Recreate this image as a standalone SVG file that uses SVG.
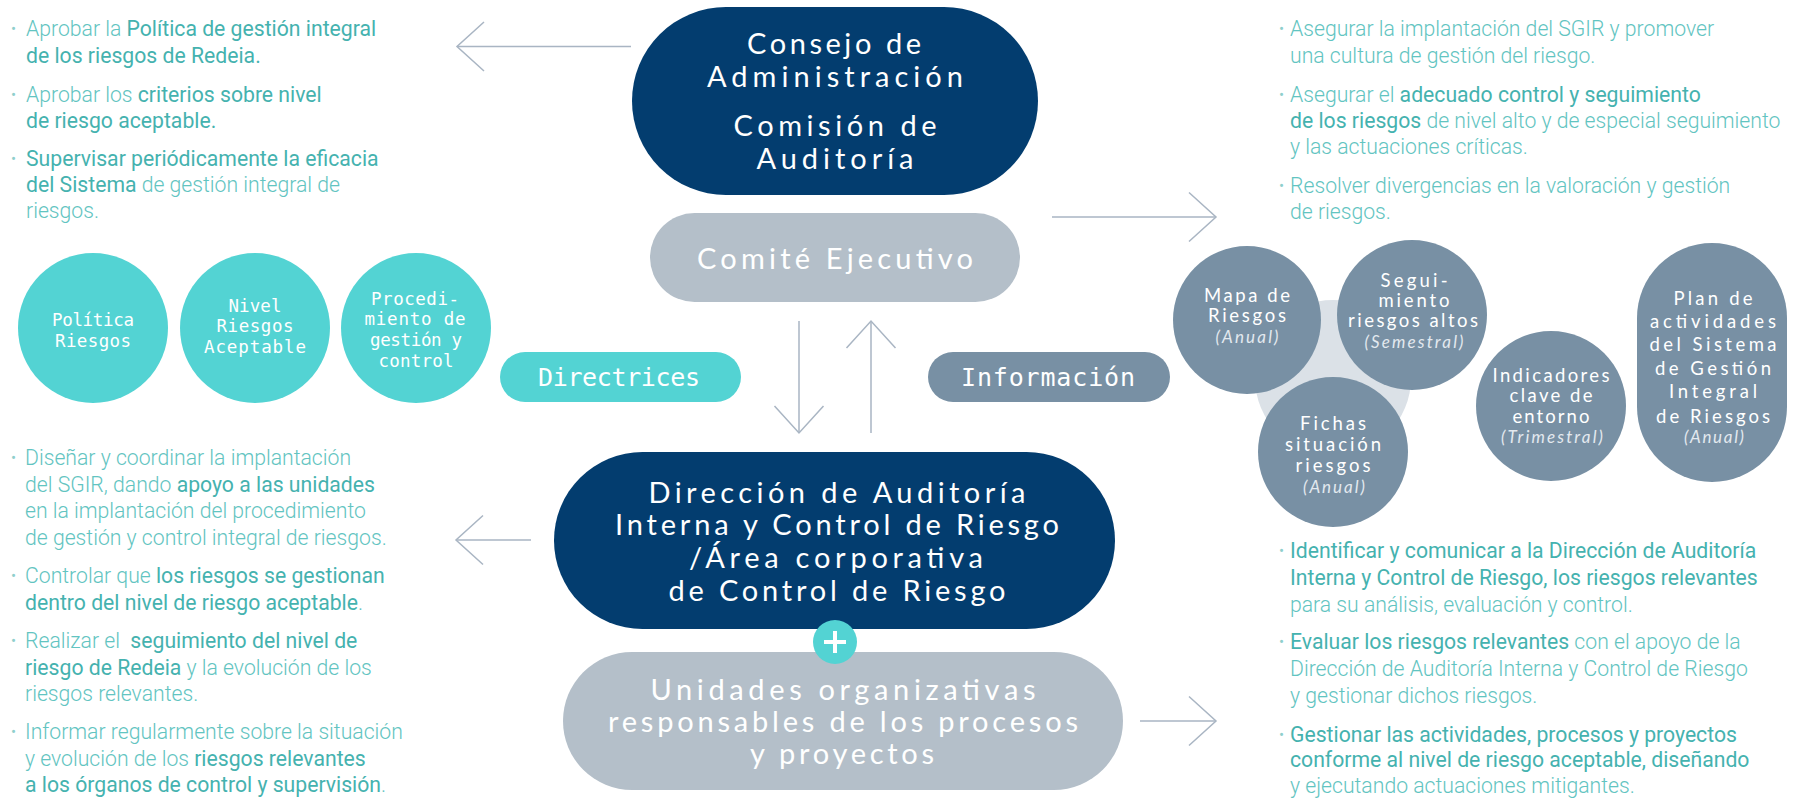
<svg xmlns="http://www.w3.org/2000/svg" width="1801" height="799" viewBox="0 0 1801 799">
<style>
.bg{fill:#ffffff}
.body{font-family:Roboto,"Liberation Sans",sans-serif;font-size:21.2px;font-weight:300;fill:#62c4c1}
.b{font-weight:400;fill:#45b2af}
.dot{font-family:Roboto,"Liberation Sans",sans-serif;font-size:15px;fill:#8fcfcc}
.navy{fill:#033d6f}
.grey{fill:#b4bfc9}
.teal{fill:#53d3d3}
.slate{fill:#7890a4}
.halo{fill:#dbe1e7}
.pt{font-family:Lato,"Open Sans",sans-serif;font-size:29px;fill:#ffffff;text-anchor:middle}
.mono{font-family:"DejaVu Sans Mono","Liberation Mono",monospace;fill:#ffffff;text-anchor:middle}
.ct{font-family:Lato,"Open Sans",sans-serif;font-size:18.5px;fill:#ffffff;text-anchor:middle}
.ci{font-family:Lato,"Open Sans",sans-serif;font-size:17px;font-style:italic;fill:#e3e9ef;text-anchor:middle}
.conn{fill:none;stroke:#a9b5c3;stroke-width:1.5}
</style>
<defs>
<marker id="chev" markerUnits="userSpaceOnUse" viewBox="-30 -30 34 60" markerWidth="34" markerHeight="60" refX="0" refY="0" orient="auto">
<path d="M-27,-24.5 L0,0 L-27,24.5" fill="none" stroke="#a9b5c3" stroke-width="1.5"/>
</marker>
</defs>
<rect class="bg" x="0" y="0" width="1801" height="799"/>

<g id="connectors">
<line class="conn" x1="631" y1="46.5" x2="457" y2="46.5" marker-end="url(#chev)"/>
<line class="conn" x1="1052" y1="217" x2="1216" y2="217" marker-end="url(#chev)"/>
<line class="conn" x1="531" y1="540" x2="456" y2="540" marker-end="url(#chev)"/>
<line class="conn" x1="1140" y1="721" x2="1216" y2="721" marker-end="url(#chev)"/>
<line class="conn" x1="799" y1="321" x2="799" y2="433" marker-end="url(#chev)"/>
<line class="conn" x1="871" y1="433" x2="871" y2="321" marker-end="url(#chev)"/>
</g>

<g id="text-consejo">
<text class="dot" x="11" y="34">•</text>
<text class="body" x="26" y="36" xml:space="preserve">Aprobar la <tspan class="b">Política de gestión integral</tspan></text>
<text class="body b" x="26" y="63">de los riesgos de Redeia.</text>
<text class="dot" x="11" y="100">•</text>
<text class="body" x="26" y="102" xml:space="preserve">Aprobar los <tspan class="b">criterios sobre nivel</tspan></text>
<text class="body b" x="26" y="128">de riesgo aceptable.</text>
<text class="dot" x="11" y="164">•</text>
<text class="body b" x="26" y="166">Supervisar periódicamente la eficacia</text>
<text class="body" x="26" y="192" xml:space="preserve"><tspan class="b">del Sistema</tspan> de gestión integral de</text>
<text class="body" x="26" y="218">riesgos.</text>
</g>

<g id="text-comite">
<text class="dot" x="1279" y="34">•</text>
<text class="body" x="1290" y="36">Asegurar la implantación del SGIR y promover</text>
<text class="body" x="1290" y="63">una cultura de gestión del riesgo.</text>
<text class="dot" x="1279" y="100">•</text>
<text class="body" x="1290" y="102" xml:space="preserve">Asegurar el <tspan class="b">adecuado control y seguimiento</tspan></text>
<text class="body" x="1290" y="128" xml:space="preserve"><tspan class="b">de los riesgos</tspan> de nivel alto y de especial seguimiento</text>
<text class="body" x="1290" y="154">y las actuaciones críticas.</text>
<text class="dot" x="1279" y="191">•</text>
<text class="body" x="1290" y="193">Resolver divergencias en la valoración y gestión</text>
<text class="body" x="1290" y="219">de riesgos.</text>
</g>

<g id="text-direccion">
<text class="dot" x="11" y="463">•</text>
<text class="body" x="25" y="465">Diseñar y coordinar la implantación</text>
<text class="body" x="25" y="492" xml:space="preserve">del SGIR, dando <tspan class="b">apoyo a las unidades</tspan></text>
<text class="body" x="25" y="518">en la implantación del procedimiento</text>
<text class="body" x="25" y="545">de gestión y control integral de riesgos.</text>
<text class="dot" x="11" y="581">•</text>
<text class="body" x="25" y="583" xml:space="preserve">Controlar que <tspan class="b">los riesgos se gestionan</tspan></text>
<text class="body" x="25" y="610"><tspan class="b">dentro del nivel de riesgo aceptable</tspan>.</text>
<text class="dot" x="11" y="646">•</text>
<text class="body" x="25" y="648" xml:space="preserve">Realizar el  <tspan class="b">seguimiento del nivel de</tspan></text>
<text class="body" x="25" y="675" xml:space="preserve"><tspan class="b">riesgo de Redeia</tspan> y la evolución de los</text>
<text class="body" x="25" y="701">riesgos relevantes.</text>
<text class="dot" x="11" y="737">•</text>
<text class="body" x="25" y="739">Informar regularmente sobre la situación</text>
<text class="body" x="25" y="766" xml:space="preserve">y evolución de los <tspan class="b">riesgos relevantes</tspan></text>
<text class="body" x="25" y="792"><tspan class="b">a los órganos de control y supervisión</tspan>.</text>
</g>

<g id="text-unidades">
<text class="dot" x="1279" y="556">•</text>
<text class="body b" x="1290" y="558">Identificar y comunicar a la Dirección de Auditoría</text>
<text class="body b" x="1290" y="585">Interna y Control de Riesgo, los riesgos relevantes</text>
<text class="body" x="1290" y="612">para su análisis, evaluación y control.</text>
<text class="dot" x="1279" y="647">•</text>
<text class="body" x="1290" y="649" xml:space="preserve"><tspan class="b">Evaluar los riesgos relevantes</tspan> con el apoyo de la</text>
<text class="body" x="1290" y="676">Dirección de Auditoría Interna y Control de Riesgo</text>
<text class="body" x="1290" y="703">y gestionar dichos riesgos.</text>
<text class="dot" x="1279" y="740">•</text>
<text class="body b" x="1290" y="742">Gestionar las actividades, procesos y proyectos</text>
<text class="body b" x="1290" y="767">conforme al nivel de riesgo aceptable, diseñando</text>
<text class="body" x="1290" y="793">y ejecutando actuaciones mitigantes.</text>
</g>

<g id="consejo">
<rect class="navy" x="632" y="7" width="406" height="188" rx="94"/>
<text class="pt" x="834" y="54" textLength="174" lengthAdjust="spacing">Consejo de</text>
<text class="pt" x="835" y="87" textLength="256" lengthAdjust="spacing">Administración</text>
<text class="pt" x="835" y="136" textLength="203" lengthAdjust="spacing">Comisión de</text>
<text class="pt" x="835" y="169" textLength="157" lengthAdjust="spacing">Auditoría</text>
</g>

<g id="comite">
<rect class="grey" x="650" y="213" width="370" height="89" rx="44.5"/>
<text class="pt" x="835" y="269" font-size="31" textLength="276" lengthAdjust="spacing">Comité Ejecutivo</text>
</g>

<g id="directrices">
<rect class="teal" x="500" y="352" width="241" height="50" rx="25"/>
<text class="mono" x="619" y="386" font-size="25" textLength="162" lengthAdjust="spacing">Directrices</text>
</g>

<g id="informacion">
<rect class="slate" x="928" y="352" width="242" height="50" rx="25"/>
<text class="mono" x="1048" y="386" font-size="25" textLength="174" lengthAdjust="spacing">Información</text>
</g>

<g id="politica">
<circle class="teal" cx="93" cy="328" r="75"/>
<text class="mono" x="93" y="326" font-size="17.5" textLength="82" lengthAdjust="spacing">Política</text>
<text class="mono" x="93" y="347" font-size="17.5" textLength="76" lengthAdjust="spacing">Riesgos</text>
</g>

<g id="nivel">
<circle class="teal" cx="255" cy="328" r="75"/>
<text class="mono" x="255" y="312" font-size="17.5" textLength="53" lengthAdjust="spacing">Nivel</text>
<text class="mono" x="255" y="332" font-size="17.5" textLength="77" lengthAdjust="spacing">Riesgos</text>
<text class="mono" x="255" y="353" font-size="17.5" textLength="102" lengthAdjust="spacing">Aceptable</text>
</g>

<g id="procedimiento">
<circle class="teal" cx="416" cy="328" r="75"/>
<text class="mono" x="415" y="305" font-size="17.5" textLength="88" lengthAdjust="spacing">Procedi-</text>
<text class="mono" x="415" y="325" font-size="17.5" textLength="101" lengthAdjust="spacing">miento de</text>
<text class="mono" x="416" y="346" font-size="17.5" textLength="92" lengthAdjust="spacing">gestión y</text>
<text class="mono" x="416" y="367" font-size="17.5" textLength="75" lengthAdjust="spacing">control</text>
</g>

<g id="direccion">
<rect class="navy" x="554" y="452" width="561" height="177" rx="88.5"/>
<text class="pt" x="837" y="503" textLength="377" lengthAdjust="spacing">Dirección de Auditoría</text>
<text class="pt" x="837" y="535" textLength="444" lengthAdjust="spacing">Interna y Control de Riesgo</text>
<text class="pt" x="836" y="568" textLength="294" lengthAdjust="spacing">/Área corporativa</text>
<text class="pt" x="837" y="601" textLength="337" lengthAdjust="spacing">de Control de Riesgo</text>
</g>

<g id="unidades">
<rect class="grey" x="563" y="652" width="560" height="138" rx="69"/>
<text class="pt" x="843" y="700" font-size="28" textLength="385" lengthAdjust="spacing">Unidades organizativas</text>
<text class="pt" x="843" y="732" font-size="28" textLength="470" lengthAdjust="spacing">responsables de los procesos</text>
<text class="pt" x="842" y="764" font-size="28" textLength="184" lengthAdjust="spacing">y proyectos</text>
</g>

<g id="plus">
<circle class="teal" cx="835" cy="642" r="22"/>
<path d="M835,631 V653 M824,642 H846" stroke="#ffffff" stroke-width="4" fill="none"/>
</g>

<g id="info-halo">
<circle class="halo" cx="1333" cy="378" r="78"/>
</g>

<g id="mapa">
<circle class="slate" cx="1247" cy="320" r="74"/>
<text class="ct" x="1247" y="302" textLength="86" lengthAdjust="spacing">Mapa de</text>
<text class="ct" x="1247" y="322" textLength="78" lengthAdjust="spacing">Riesgos</text>
<text class="ci" x="1247" y="343" textLength="63" lengthAdjust="spacing">(Anual)</text>
</g>

<g id="seguimiento">
<circle class="slate" cx="1412" cy="315" r="75"/>
<text class="ct" x="1414" y="287" textLength="67" lengthAdjust="spacing">Segui-</text>
<text class="ct" x="1414" y="307" textLength="71" lengthAdjust="spacing">miento</text>
<text class="ct" x="1413" y="327" textLength="130" lengthAdjust="spacing">riesgos altos</text>
<text class="ci" x="1414" y="348" textLength="99" lengthAdjust="spacing">(Semestral)</text>
</g>

<g id="fichas">
<circle class="slate" cx="1333" cy="452" r="75"/>
<text class="ct" x="1333" y="430" textLength="66" lengthAdjust="spacing">Fichas</text>
<text class="ct" x="1333" y="451" textLength="96" lengthAdjust="spacing">situación</text>
<text class="ct" x="1333" y="472" textLength="75" lengthAdjust="spacing">riesgos</text>
<text class="ci" x="1334" y="493" textLength="62" lengthAdjust="spacing">(Anual)</text>
</g>

<g id="indicadores">
<circle class="slate" cx="1551" cy="406" r="75"/>
<text class="ct" x="1551" y="382" textLength="117" lengthAdjust="spacing">Indicadores</text>
<text class="ct" x="1551" y="402" textLength="83" lengthAdjust="spacing">clave de</text>
<text class="ct" x="1551" y="423" textLength="77" lengthAdjust="spacing">entorno</text>
<text class="ci" x="1552" y="443" textLength="102" lengthAdjust="spacing">(Trimestral)</text>
</g>

<g id="plan">
<rect class="slate" x="1637" y="243" width="150" height="239" rx="75"/>
<text class="ct" x="1713" y="305" font-size="21" textLength="79" lengthAdjust="spacing">Plan de</text>
<text class="ct" x="1713" y="328" font-size="21" textLength="126" lengthAdjust="spacing">actividades</text>
<text class="ct" x="1713" y="351" font-size="21" textLength="127" lengthAdjust="spacing">del Sistema</text>
<text class="ct" x="1713" y="375" font-size="21" textLength="116" lengthAdjust="spacing">de Gestión</text>
<text class="ct" x="1713" y="398" font-size="21" textLength="88" lengthAdjust="spacing">Integral</text>
<text class="ct" x="1713" y="423" font-size="21" textLength="114" lengthAdjust="spacing">de Riesgos</text>
<text class="ci" x="1714" y="443" textLength="60" lengthAdjust="spacing">(Anual)</text>
</g>
</svg>
